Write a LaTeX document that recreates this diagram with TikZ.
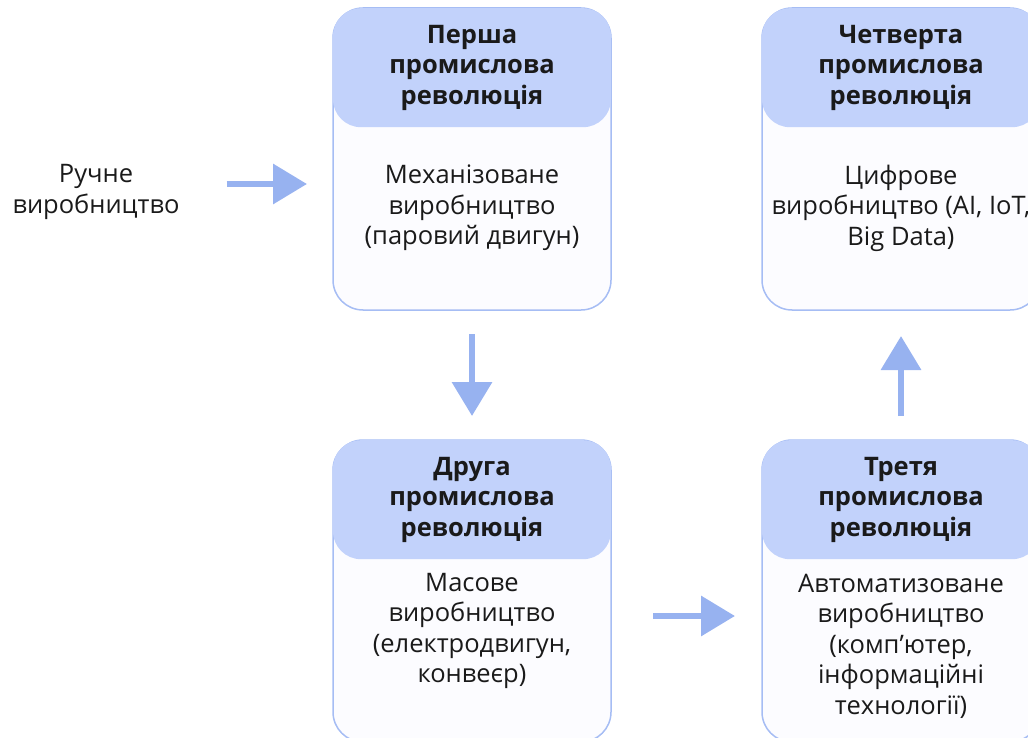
\documentclass[tikz,border=0pt]{standalone}
\usepackage{fontspec}
\setmainfont{Open Sans}
\usetikzlibrary{arrows.meta,positioning}
\definecolor{headblue}{HTML}{C2D2FB}
\definecolor{edgeblue}{HTML}{A6BDF4}
\definecolor{arrowblue}{HTML}{97B2F0}
\definecolor{bodywhite}{HTML}{FCFCFF}
\definecolor{inkgray}{HTML}{1A1A1A}
\begin{document}
\begin{tikzpicture}[
    x=1pt, y=-1pt,
    every node/.style={text=inkgray, font=\fontsize{25.5}{30.5}\selectfont, align=center, inner sep=0pt},
    stage/.style={draw=edgeblue, line width=1.5pt, fill=bodywhite, rounded corners=30pt,
        minimum width=278pt, minimum height=302pt, outer sep=0pt},
    stagehead/.style={fill=headblue, rounded corners=28pt, minimum width=278pt, minimum height=119pt,
        font=\fontsize{25.5}{30.5}\selectfont\bfseries},
    flow/.style={arrowblue, line width=6.5pt, -{Triangle[width=39pt,length=34pt]}}
]
\useasboundingbox (0,0) rectangle (1028,738);
% the four stages
\node[stage] (rev1) at (472,159) {};
\node[stage] (rev2) at (472,591) {};
\node[stage] (rev3) at (901,591) {};
\node[stage] (rev4) at (901,159) {};
\node[stagehead, below=0pt of rev1.north] (head1) {Перша\\промислова\\революція};
\node[stagehead, below=0pt of rev2.north] (head2) {Друга\\промислова\\революція};
\node[stagehead, below=0pt of rev3.north] (head3) {Третя\\промислова\\революція};
\node[stagehead, below=0pt of rev4.north] (head4) {Четверта\\промислова\\революція};
\node (text1) at ([yshift=-49pt]rev1.center) {Механізоване\\виробництво\\(паровий двигун)};
\node (text2) at ([yshift=-40pt]rev2.center) {Масове\\виробництво\\(електродвигун,\\конвеєр)};
\node (text3) at ([yshift=-55pt]rev3.center) {Автоматизоване\\виробництво\\(комп’ютер,\\інформаційні\\технології)};
\node (text4) at ([yshift=-49pt]rev4.center) {Цифрове\\виробництво (AI, IoT,\\Big Data)};
% starting point
\node (manual) at (96,192) {Ручне\\виробництво};
% transitions
\draw[flow] ([xshift=47pt,yshift=8pt]manual.east) -- ([xshift=-26pt,yshift=-25pt]rev1.west);
\draw[flow] ([yshift=-24pt]rev1.south) -- ([yshift=24pt]rev2.north);
\draw[flow] ([xshift=42pt,yshift=-25pt]rev2.east) -- ([xshift=-27pt,yshift=-25pt]rev3.west);
\draw[flow] ([yshift=24pt]rev3.north) -- ([yshift=-26pt]rev4.south);
\end{tikzpicture}
\end{document}
